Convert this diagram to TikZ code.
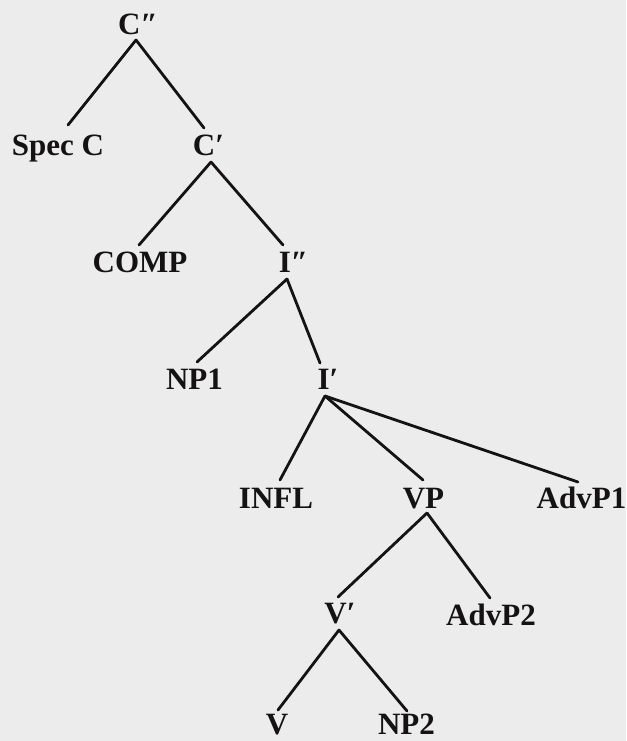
\documentclass[tikz,border=0pt]{standalone}
\usepackage{fontspec}
\setmainfont{Liberation Serif}
\usetikzlibrary{calc}
\definecolor{paper}{RGB}{236,236,236}
\definecolor{ink}{RGB}{20,18,18}
\begin{document}
\begin{tikzpicture}[x=1pt,y=-1pt,
  lab/.style={anchor=base,inner sep=0pt,text=ink,font=\fontsize{31}{37}\selectfont\bfseries},
  edge/.style={draw=ink,line width=2.8pt,line cap=round}]
\fill[paper] (0,0) rectangle (626,741);
\useasboundingbox (0,0) rectangle (626,741);
\node[lab] (Cpp)   at (138,35)   {C″};
\node[lab] (SpecC) at (58,155)   {Spec C};
\node[lab] (Cp)    at (208.5,155){C′};
\node[lab] (COMP)  at (140,272)  {COMP};
\node[lab] (Ipp)   at (293.5,272){I″};
\node[lab] (NP1)   at (194.5,389){NP1};
\node[lab] (Ip)    at (328,389)  {I′};
\node[lab] (INFL)  at (276,508)  {INFL};
\node[lab] (VP)    at (423.5,508){VP};
\node[lab] (AdvP1) at (581.5,508){AdvP1};
\node[lab] (Vp)    at (340,623)  {V′};
\node[lab] (AdvP2) at (491,625)  {AdvP2};
\node[lab] (V)     at (277,734)  {V};
\node[lab] (NP2)   at (406.5,734){NP2};
% connectors
\draw[edge] ($(Cpp.base)+(-2,5)$) -- ($(SpecC.base)+(10,-30)$);
\draw[edge] ($(Cpp.base)+(-2,5)$) -- ($(Cp.base)+(-4.5,-27)$);
\draw[edge] ($(Cp.base)+(2.5,7)$) -- ($(COMP.base)+(-1,-27)$);
\draw[edge] ($(Cp.base)+(2.5,7)$) -- ($(Ipp.base)+(-10.5,-27)$);
\draw[edge] ($(Ipp.base)+(-6.5,7)$) -- ($(NP1.base)+(2.5,-27)$);
\draw[edge] ($(Ipp.base)+(-6.5,7)$) -- ($(Ip.base)+(-8,-26)$);
\draw[edge] ($(Ip.base)+(-3,7)$) -- ($(INFL.base)+(4,-28)$);
\draw[edge] ($(Ip.base)+(-3,7)$) -- ($(VP.base)+(-0.5,-28)$);
\draw[edge] ($(Ip.base)+(-3,7)$) -- ($(AdvP1.base)+(-3.5,-26)$);
\draw[edge] ($(VP.base)+(3.5,5)$) -- ($(Vp.base)+(-2,-26)$);
\draw[edge] ($(VP.base)+(3.5,5)$) -- ($(AdvP2.base)+(-1,-27)$);
\draw[edge] ($(Vp.base)+(-1,7)$) -- ($(V.base)+(1,-24)$);
\draw[edge] ($(Vp.base)+(-1,7)$) -- ($(NP2.base)+(0.5,-23)$);
\end{tikzpicture}
\end{document}
